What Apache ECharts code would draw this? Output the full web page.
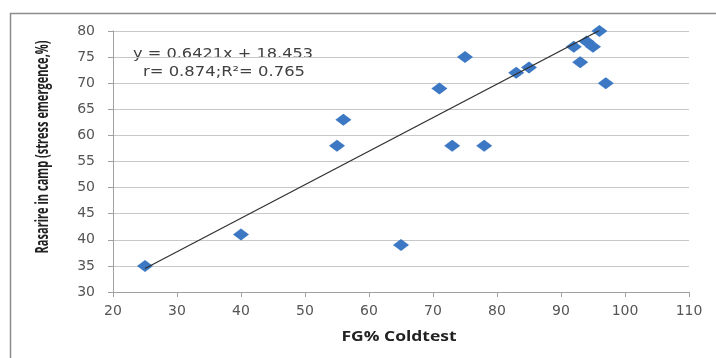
<!DOCTYPE html>
<html>
<head>
<meta charset="utf-8">
<script src="https://cdn.jsdelivr.net/npm/echarts@6/dist/echarts.min.js"></script>
<style>html,body{margin:0;padding:0;background:#fff;}#c{width:716px;height:358px;}</style>
</head>
<body>
<div id="c"></div>
<script>
var coldtest = [25, 40, 55, 56, 65, 71, 73, 75, 78, 83, 85, 92, 93, 94, 95, 96, 97];
var emergence = [35, 41, 58, 63, 39, 69, 58, 75, 58, 72, 73, 77, 74, 78, 77, 80, 70];
var trendX = [25, 96];
var trendY = [34.5, 80.1];
var equationText = 'y = 0.6421x + 18.453';
var statsText = 'r= 0.874;R\u00B2= 0.765';
var xTitle = 'FG% Coldtest';
var yTitle = 'Rasarire in camp (stress emergence,%)';

var pts = coldtest.map(function (x, i) { return [x, emergence[i]]; });
var trend = trendX.map(function (x, i) { return [x, trendY[i]]; });

var ctx = document.createElement('canvas').getContext('2d');
function fitScale(text, font, target) {
  ctx.font = font;
  return target / ctx.measureText(text).width;
}
var yTitleFont = 'bold 17px "Open Sans"';
var xTitleFont = 'bold 14px "Open Sans"';
var eqFont = '14px "DejaVu Sans"';

var chart = echarts.init(document.getElementById('c'), null, {renderer: 'canvas'});
var tickFont = {fontFamily: 'DejaVu Sans', fontSize: 14, color: '#555555'};
chart.setOption({
  animation: false,
  backgroundColor: '#ffffff',
  grid: {left: 113, right: 27, top: 31, bottom: 66},
  xAxis: {
    type: 'value', min: 20, max: 110, interval: 10,
    axisLine: {show: true, lineStyle: {color: '#a0a0a0'}},
    axisTick: {show: true, length: 5, inside: false, lineStyle: {color: '#a0a0a0'}},
    splitLine: {show: false},
    axisLabel: Object.assign({margin: 12}, tickFont)
  },
  yAxis: {
    type: 'value', min: 30, max: 80, interval: 5,
    axisLine: {show: true, lineStyle: {color: '#a0a0a0'}},
    axisTick: {show: true, length: 5, inside: false, lineStyle: {color: '#a0a0a0'}},
    splitLine: {show: true, lineStyle: {color: '#c8c8c8', width: 1}},
    axisLabel: Object.assign({margin: 18}, tickFont)
  },
  graphic: [
    {type: 'rect', shape: {x: 10.5, y: 13.5, width: 720, height: 360}, style: {fill: 'none', stroke: '#8c8c8c', lineWidth: 1.5}, silent: true, z: 0},
    {type: 'text', x: 43, y: 147, rotation: Math.PI / 2, scaleX: fitScale(yTitle, yTitleFont, 213),
      style: {text: yTitle, fontFamily: 'Open Sans', fontWeight: 'bold', fontSize: 17, fill: '#222222', align: 'center', verticalAlign: 'middle'}},
    {type: 'text', x: 399, y: 337, scaleX: fitScale(xTitle, xTitleFont, 115),
      style: {text: xTitle, fontFamily: 'Open Sans', fontWeight: 'bold', fontSize: 14, fill: '#222222', align: 'center', verticalAlign: 'middle'}},
    {type: 'text', x: 223, y: 54, scaleX: fitScale(equationText, eqFont, 180),
      style: {text: equationText, fontFamily: 'DejaVu Sans', fontSize: 14, fill: '#404040', align: 'center', verticalAlign: 'middle'}},
    {type: 'text', x: 224, y: 72, scaleX: fitScale(statsText, eqFont, 162),
      style: {text: statsText, fontFamily: 'DejaVu Sans', fontSize: 14, fill: '#404040', align: 'center', verticalAlign: 'middle'}}
  ],
  series: [
    {type: 'scatter', data: pts, symbol: 'diamond', symbolSize: [16, 12], itemStyle: {color: '#3c78c3', opacity: 1}, z: 2},
    {type: 'line', data: trend, showSymbol: false, symbol: 'none', lineStyle: {color: '#303030', width: 1.2}, z: 3}
  ]
});
</script>
</body>
</html>
